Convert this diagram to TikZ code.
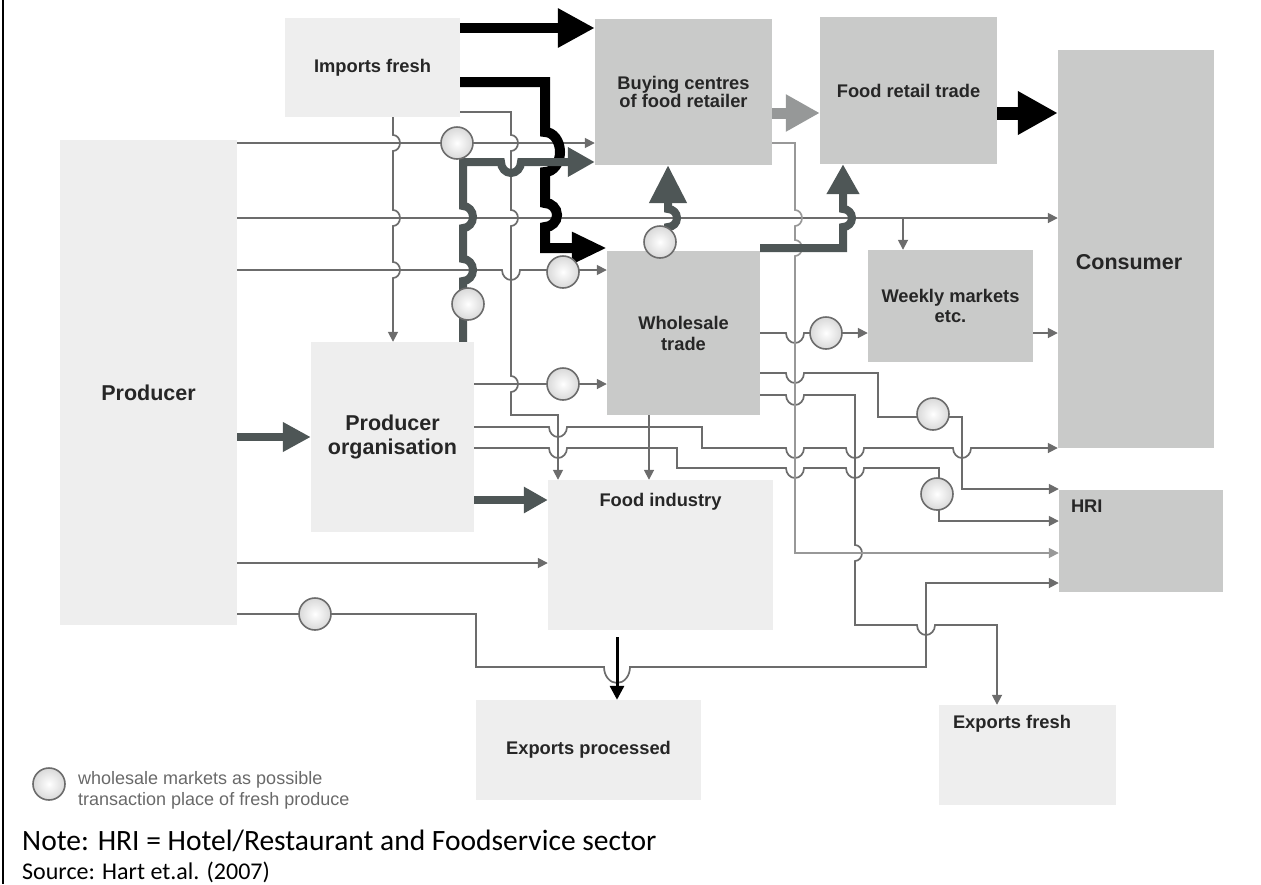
\documentclass[tikz,border=0pt]{standalone}
\usepackage{fontspec}
\setmainfont{Liberation Sans}
\newfontfamily\notefont{Carlito}
\usetikzlibrary{arrows.meta,positioning}

\definecolor{boxdark}{RGB}{201,202,201}
\definecolor{boxlight}{RGB}{238,238,238}
\definecolor{wire}{RGB}{108,108,108}
\definecolor{wirelight}{RGB}{152,152,152}
\definecolor{slate}{RGB}{78,86,86}
\definecolor{palearrow}{RGB}{150,152,152}
\definecolor{labelink}{RGB}{38,38,38}
\definecolor{legendink}{RGB}{105,105,105}

\begin{document}
\begin{tikzpicture}[x=1pt, y=-1pt,
  darkbox/.style={fill=boxdark, inner sep=0pt, align=center, text=labelink, font=\bfseries\fontsize{18.3}{20}\selectfont},
  lightbox/.style={fill=boxlight, inner sep=0pt, align=center, text=labelink, font=\bfseries\fontsize{18.3}{20}\selectfont},
  biglabel/.style={inner sep=0pt, align=center, text=labelink, font=\bfseries\fontsize{21.5}{24}\selectfont},
  boxlabel/.style={inner sep=0pt, text=labelink, font=\bfseries\fontsize{18.3}{20}\selectfont},
  wireline/.style={draw=wire, line width=1.7pt},
  smallhead/.style={-{Triangle[length=10pt,width=10pt]}},
  slateflow/.style={draw=slate, line width=8pt},
  market/.style={circle, minimum size=32pt, inner sep=0pt, draw=wire, line width=1.6pt, inner color=white, outer color=gray!30}]
  \useasboundingbox (0,0) rectangle (1261,884);
  \draw[line width=2pt] (3,0) -- (3,884);

  % boxes
  \node[lightbox, minimum width=175pt, minimum height=99pt] (imp) at (372.5,67.5) {Imports fresh};
  \node[lightbox, minimum width=177pt, minimum height=485pt] (prod) at (148.5,382.5) {};
  \node[biglabel] (prodlbl) at ([yshift=-10pt]prod.center) {Producer};
  \node[lightbox, font=\bfseries\fontsize{21.5}{24}\selectfont, minimum width=163pt, minimum height=190pt] (porg) at (392.5,437) {Producer\\organisation};
  \node[darkbox, font=\bfseries\fontsize{18.3}{17}\selectfont, minimum width=177pt, minimum height=146pt] (bc) at (683.5,92) {Buying centres\\of food retailer};
  \node[darkbox, minimum width=177pt, minimum height=147pt] (fr) at (908.5,90.5) {Food retail trade};
  \node[darkbox, minimum width=156pt, minimum height=398pt] (cons) at (1136,249) {};
  \node[biglabel] (conslbl) at ([xshift=-7pt,yshift=-13pt]cons.center) {Consumer};
  \node[darkbox, font=\bfseries\fontsize{18.3}{21}\selectfont, minimum width=153pt, minimum height=164pt] (ws) at (683.5,333) {Wholesale\\trade};
  \node[darkbox, minimum width=165pt, minimum height=112pt] (wk) at (950.5,306) {Weekly markets\\etc.};
  \node[darkbox, minimum width=164pt, minimum height=102pt] (hri) at (1141,541) {};
  \node[boxlabel, below right=10pt and 12pt of hri.north west] (hrilbl) {HRI};
  \node[lightbox, minimum width=225pt, minimum height=150pt] (fi) at (660.5,555) {};
  \node[boxlabel, below=13pt of fi.north] (filbl) {Food industry};
  \node[lightbox, minimum width=225pt, minimum height=100pt] (ep) at (588.5,750) {Exports processed};
  \node[lightbox, minimum width=177pt, minimum height=100pt] (ef) at (1027.5,755) {};
  \node[boxlabel, below right=10pt and 14pt of ef.north west] (eflbl) {Exports fresh};

  % thin flows from the producer
  \draw[wireline, smallhead] (prod.east |- 0,143) -- (bc.west |- 0,143);
  \draw[wireline, smallhead] (prod.east |- 0,218) -- (cons.west |- 0,218);
  \coordinate (p2w) at (903,218);
  \draw[wireline, smallhead] (p2w) -- (wk.north -| p2w);
  \draw[wireline, smallhead] (prod.east |- 0,270) -- (502,270) arc[start angle=180, end angle=0, x radius=9, y radius=10] -- (ws.west |- 0,270);
  \draw[wireline, smallhead] (prod.east |- 0,563) -- (fi.west |- 0,563);
  \draw[wireline, smallhead] (prod.east |- 0,614) -- (476,614) -- (476,667) -- (604,667)
    arc[start angle=180, end angle=0, x radius=13, y radius=16] -- (926,667) -- (926,583) -- (hri.west |- 0,583);

  % thin flows from imports
  \draw[wireline, smallhead] (imp.south -| 393,0) -- (393,135) arc[start angle=-90, end angle=90, x radius=7, y radius=8]
    -- (393,210) arc[start angle=-90, end angle=90, x radius=7, y radius=8]
    -- (393,262) arc[start angle=-90, end angle=90, x radius=7, y radius=8] -- (porg.north -| 393,0);
  \draw[wireline, smallhead] (imp.east |- 0,112) -- (511,112) -- (511,135) arc[start angle=-90, end angle=90, x radius=7, y radius=8]
    -- (511,210) arc[start angle=-90, end angle=90, x radius=7, y radius=8]
    -- (511,376) arc[start angle=-90, end angle=90, x radius=7, y radius=8] -- (511,415) -- (558,415) -- (fi.north -| 558,0);

  % thin flows from the producer organisation
  \draw[wireline, smallhead] (porg.east |- 0,384) -- (ws.west |- 0,384);
  \draw[wireline, smallhead] (porg.east |- 0,427) -- (549,427) arc[start angle=180, end angle=0, x radius=9, y radius=10]
    -- (702,427) -- (702,448) -- (786,448) arc[start angle=180, end angle=0, x radius=9, y radius=10]
    -- (846,448) arc[start angle=180, end angle=0, x radius=9, y radius=10]
    -- (953,448) arc[start angle=180, end angle=0, x radius=9, y radius=10] -- (cons.west |- 0,448);
  \draw[wireline, smallhead] (porg.east |- 0,448) -- (549,448) arc[start angle=180, end angle=0, x radius=9, y radius=10]
    -- (677,448) -- (677,468) -- (786,468) arc[start angle=180, end angle=0, x radius=9, y radius=10]
    -- (846,468) arc[start angle=180, end angle=0, x radius=9, y radius=10] -- (939,468) -- (939,521) -- (hri.west |- 0,521);

  % thin flows from wholesale and buying centres
  \draw[wireline, smallhead] (ws.east |- 0,333) -- (786,333) arc[start angle=180, end angle=0, x radius=9, y radius=10] -- (wk.west |- 0,333);
  \draw[wireline, smallhead] (wk.east |- 0,333) -- (cons.west |- 0,333);
  \draw[wireline, smallhead] (ws.east |- 0,373) -- (786,373) arc[start angle=180, end angle=0, x radius=9, y radius=10]
    -- (878,373) -- (878,417) -- (962,417) -- (962,489) -- (hri.west |- 0,489);
  \draw[wireline, smallhead] (ws.east |- 0,395) -- (786,395) arc[start angle=180, end angle=0, x radius=9, y radius=10]
    -- (855,395) -- (855,545) arc[start angle=-90, end angle=90, x radius=7, y radius=8]
    -- (855,625) -- (917,625) arc[start angle=180, end angle=0, x radius=9, y radius=10] -- (997,625) -- (ef.north -| 997,0);
  \draw[wireline, smallhead] (ws.south -| 649,0) -- (fi.north -| 649,0);
  \draw[wireline, draw=wirelight, smallhead] (bc.east |- 0,143) -- (795,143) -- (795,210) arc[start angle=-90, end angle=90, x radius=7, y radius=8]
    -- (795,240) arc[start angle=-90, end angle=90, x radius=7, y radius=8] -- (795,553) -- (hri.west |- 0,553);

  % thick flows
  \draw[draw=black, line width=10pt, -{Triangle[length=37pt,width=37pt]}] (imp.east |- 0,28) -- (bc.west |- 0,28);
  \draw[draw=black, line width=10pt, -{Triangle[length=35pt,width=30pt]}] (imp.east |- 0,82) -- (545,82)
    -- (545,132) arc[start angle=-90, end angle=90, x radius=15, y radius=20]
    -- (545,203) arc[start angle=-90, end angle=90, x radius=12, y radius=12] -- (545,248) -- (ws.west |- 0,248);
  \draw[slateflow, -{Triangle[length=27pt,width=28pt]}] (porg.north -| 463,0)
    -- (463,281) arc[start angle=90, end angle=-90, x radius=10, y radius=11]
    -- (463,228) arc[start angle=90, end angle=-90, x radius=10, y radius=11]
    -- (463,162) -- (501,162) arc[start angle=180, end angle=0, x radius=10, y radius=11] -- (bc.west |- 0,162);
  \coordinate (m5) at (660,242);
  \draw[slateflow, -{Triangle[length=38pt,width=36pt]}] ([shift={(8,-13)}]m5) -- (668,227)
    arc[start angle=90, end angle=-90, x radius=9, y radius=9] -- (bc.south -| 668,0);
  \draw[slateflow, -{Triangle[length=30pt,width=31pt]}] (ws.east |- 0,248) -- (843,248) -- (843,227)
    arc[start angle=90, end angle=-90, x radius=9, y radius=9] -- (fr.south -| 843,0);
  \draw[draw=palearrow, line width=11pt, -{Triangle[length=34pt,width=35pt]}] (bc.east |- 0,113) -- (fr.west |- 0,113);
  \draw[draw=black, line width=13pt, -{Triangle[length=40pt,width=41pt]}] (fr.east |- 0,113) -- (cons.west |- 0,113);
  \draw[slateflow, -{Triangle[length=28pt,width=28pt]}] (prod.east |- 0,437) -- (porg.west |- 0,437);
  \draw[slateflow, -{Triangle[length=24pt,width=25pt]}] (porg.east |- 0,500) -- (fi.west |- 0,500);
  \draw[draw=black, line width=3pt, shorten <=7pt, -{Triangle[length=14pt,width=14pt]}] (fi.south -| 617,0) -- (ep.north -| 617,0);

  % wholesale markets
  \node[market] (mk1) at (457,143) {};
  \node[market] (mk2) at (468,304) {};
  \node[market] (mk3) at (563,272) {};
  \node[market] (mk4) at (563,384) {};
  \node[market] (mk5) at (m5) {};
  \node[market] (mk6) at (826,333) {};
  \node[market] (mk7) at (933,414) {};
  \node[market] (mk8) at (937,494) {};
  \node[market] (mk9) at (315,614) {};

  % legend and notes
  \node[market] (legmk) at (49,784) {};
  \node[inner sep=0pt, anchor=west, align=left, text=legendink, font=\fontsize{18}{21}\selectfont] (legtxt) at (78,790) {wholesale markets as possible\\transaction place of fresh produce};
  \node[inner sep=0pt, anchor=base west, font=\notefont\fontsize{29.5}{31}\selectfont] (note) at (22,850) {Note: HRI = Hotel/Restaurant and Foodservice sector};
  \node[inner sep=0pt, anchor=base west, font=\notefont\fontsize{24}{26}\selectfont] (source) at (22,879) {Source: Hart et.al. (2007)};
\end{tikzpicture}
\end{document}
